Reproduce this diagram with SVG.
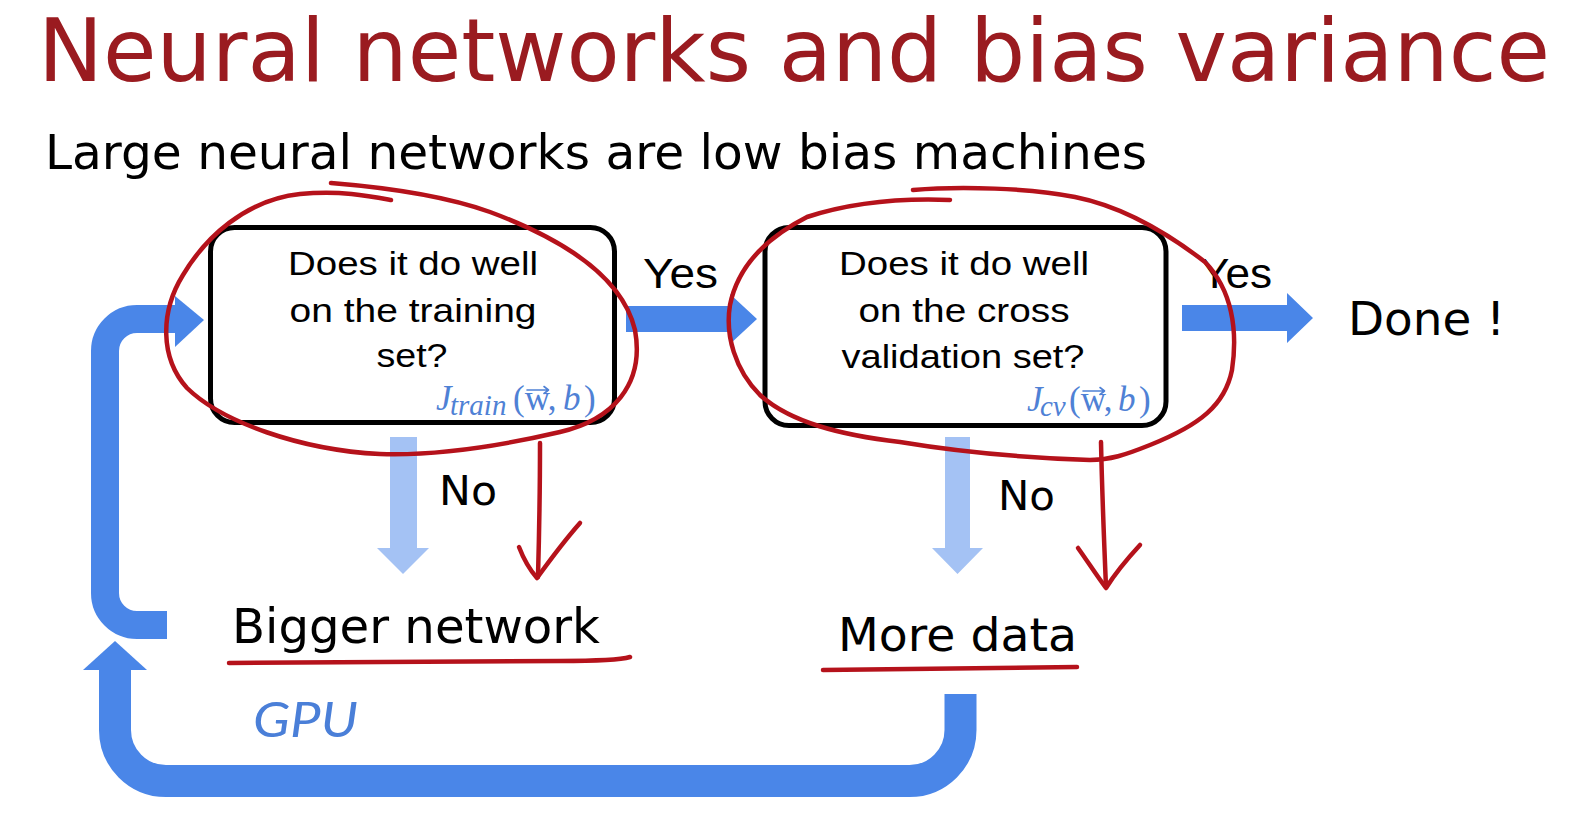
<svg xmlns="http://www.w3.org/2000/svg" width="1572" height="819" viewBox="0 0 1572 819">
<defs>
<style>
.title{font-family:"DejaVu Sans",Verdana,sans-serif;font-size:88px;fill:#9a1b20}
.sub{font-family:"DejaVu Sans",Verdana,sans-serif;font-size:48px;fill:#000}
.box{fill:#fff;stroke:#000;stroke-width:5}
.bt{font-family:"Liberation Sans",Arial,sans-serif;font-size:33px;fill:#000;text-anchor:middle}
.lbl{font-family:"Liberation Sans",Arial,sans-serif;font-size:42px;fill:#000}
.vd{font-family:"DejaVu Sans",Verdana,sans-serif;fill:#000}
.math{font-family:"Liberation Serif","DejaVu Serif",serif;font-size:35px;fill:#4f81d5}
.vec{fill:none;stroke:#4f81d5;stroke-width:1.6;stroke-linecap:round;stroke-linejoin:round}
.blue{fill:#4a86e8}
.bluestroke{fill:none;stroke:#4a86e8;stroke-linejoin:round}
.light{fill:#a4c2f4}
.red{fill:none;stroke:#b5121b;stroke-width:4.5;stroke-linecap:round;stroke-linejoin:round}
.gpu{font-family:"Lato","DejaVu Sans",sans-serif;font-style:italic;font-weight:400;font-size:48px;fill:#4a7fd8}
</style>
</defs>
<rect width="1572" height="819" fill="#fff"/>

<g id="title">
<text class="title" x="38" y="81" textLength="1512" lengthAdjust="spacingAndGlyphs">Neural networks and bias variance</text>
</g>
<g id="subtitle">
<text class="sub" x="45" y="169" textLength="1102" lengthAdjust="spacingAndGlyphs">Large neural networks are low bias machines</text>
</g>

<g id="connectors">
<path class="bluestroke" stroke-width="28" d="M176,319 H137 A32,32 0 0 0 105,351 V593 A32,32 0 0 0 137,625 H167"/>
<polygon class="blue" points="175,296 204,320 175,347"/>
<path class="bluestroke" stroke-width="32" d="M960.5,694 V730 A51,51 0 0 1 909.5,781 H166 A51,51 0 0 1 115,730 V668"/>
<polygon class="blue" points="83,670 147,670 115,641"/>
<polygon class="blue" points="626,306 730,306 730,294 757,319 730,344 730,332 626,332"/>
<polygon class="blue" points="1182,305 1287,305 1287,293 1313,318 1287,343 1287,331 1182,331"/>
<polygon class="light" points="390,437 417,437 417,548 429,548 403,574 377,548 390,548"/>
<polygon class="light" points="945,437 970,437 970,548 983,548 957.5,574 932,548 945,548"/>
<text class="lbl" x="643" y="288" textLength="75" lengthAdjust="spacingAndGlyphs">Yes</text>
<text class="lbl" x="1200" y="288" textLength="72" lengthAdjust="spacingAndGlyphs">Yes</text>
<text class="vd" x="439" y="505" font-size="41" textLength="58" lengthAdjust="spacingAndGlyphs">No</text>
<text class="vd" x="998" y="510" font-size="41" textLength="57" lengthAdjust="spacingAndGlyphs">No</text>
<text class="gpu" x="253" y="737" textLength="105" lengthAdjust="spacingAndGlyphs">GPU</text>
</g>

<g id="node-train">
<rect class="box" x="210.5" y="227.5" width="404" height="195" rx="24"/>
<text class="bt" x="413" y="275" textLength="250" lengthAdjust="spacingAndGlyphs">Does it do well</text>
<text class="bt" x="413" y="322" textLength="247" lengthAdjust="spacingAndGlyphs">on the training</text>
<text class="bt" x="412" y="367" textLength="71" lengthAdjust="spacingAndGlyphs">set?</text>
<text class="math"><tspan x="436" y="410" font-style="italic">J</tspan><tspan x="450" y="415" font-size="29" font-style="italic">train</tspan><tspan x="513" y="410">(w,</tspan><tspan x="563" y="410" font-style="italic">b</tspan><tspan x="584" y="410">)</tspan></text>
<path class="vec" d="M527,390 H548 M544,386.5 L548.5,390 L544,393.5"/>
</g>

<g id="node-cv">
<rect class="box" x="765" y="227.5" width="401" height="198" rx="24"/>
<text class="bt" x="964" y="275" textLength="250" lengthAdjust="spacingAndGlyphs">Does it do well</text>
<text class="bt" x="964" y="322" textLength="211" lengthAdjust="spacingAndGlyphs">on the cross</text>
<text class="bt" x="963" y="368" textLength="243" lengthAdjust="spacingAndGlyphs">validation set?</text>
<text class="math"><tspan x="1027" y="411" font-style="italic">J</tspan><tspan x="1040" y="416" font-size="29" font-style="italic">cv</tspan><tspan x="1069" y="411">(w,</tspan><tspan x="1118" y="411" font-style="italic">b</tspan><tspan x="1139" y="411">)</tspan></text>
<path class="vec" d="M1083,391 H1104 M1100,387.5 L1104.5,391 L1100,394.5"/>
</g>

<g id="node-done">
<text class="vd" x="1348" y="335" font-size="46" textLength="157" lengthAdjust="spacingAndGlyphs">Done !</text>
</g>
<g id="node-bigger">
<text class="vd" x="232" y="643" font-size="48" textLength="368" lengthAdjust="spacingAndGlyphs">Bigger network</text>
</g>
<g id="node-more">
<text class="vd" x="838" y="651" font-size="47" textLength="239" lengthAdjust="spacingAndGlyphs">More data</text>
</g>

<g id="annotations">
<path class="red" d="M331,183 C380,187 440,194 490,212 C560,238 622,275 635,330 C645,385 612,420 560,432 C500,446 440,456 380,454 C300,450 222,422 187,388 C160,358 160,312 183,275 C205,238 245,200 300,194 C340,190 370,196 391,200"/>
<path class="red" d="M540,443 C540,490 539,540 538,577"/>
<path class="red" d="M519,547 C524,560 530,570 537,578 C550,560 565,540 580,523"/>
<path class="red" d="M229,663 L560,661 C600,661 620,660 630,657"/>
<path class="red" d="M913,190 C960,186 1030,188 1075,197 C1125,207 1170,235 1205,262 C1232,290 1238,330 1232,370 C1225,405 1200,425 1150,445 C1125,455 1110,460 1090,460 C1030,458 960,452 900,442 C840,435 790,422 760,395 C735,370 725,335 730,305 C737,270 762,240 807,217 C850,203 900,198 950,200"/>
<path class="red" d="M1101,442 C1102,490 1104,540 1106,587"/>
<path class="red" d="M1078,548 C1088,562 1097,576 1106,588 C1116,572 1128,558 1140,545"/>
<path class="red" d="M823,670 L1077,667"/>
</g>
</svg>
